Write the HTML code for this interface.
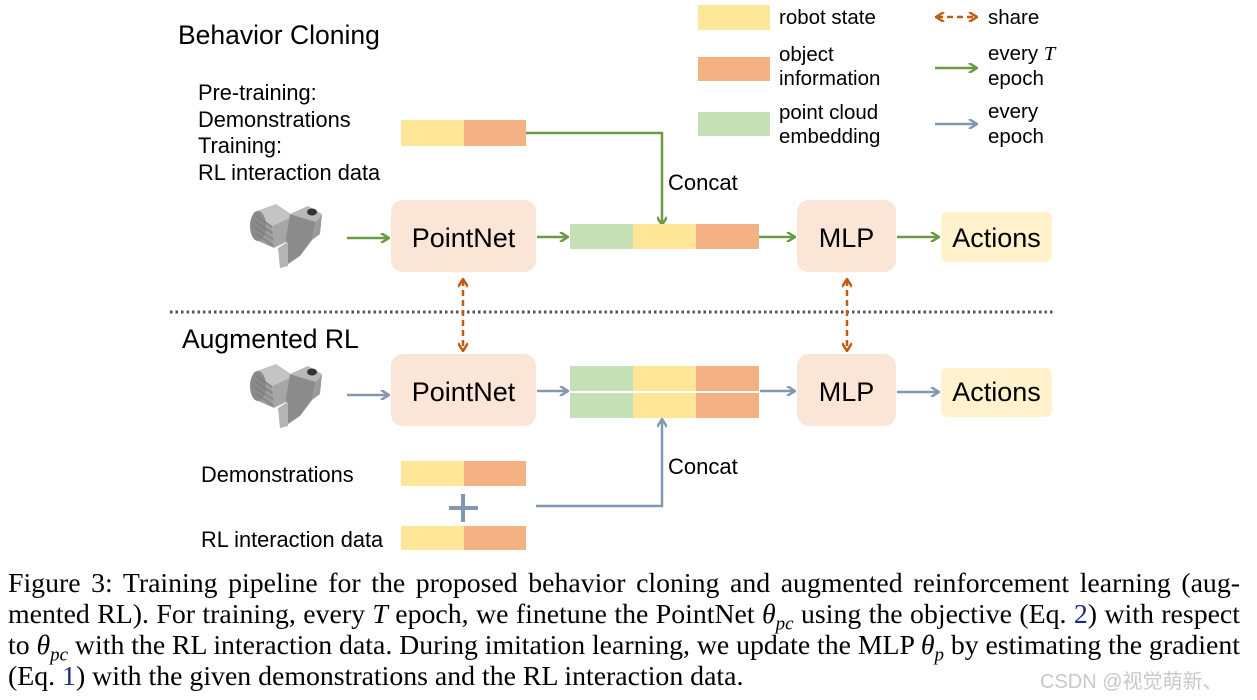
<!DOCTYPE html>
<html><head><meta charset="utf-8"><style>
html,body{margin:0;padding:0;background:#fff;width:1257px;height:700px;overflow:hidden}
svg{display:block}
.s{font-family:"Liberation Sans",sans-serif;fill:#000}
.cap{position:absolute;left:8px;top:568px;width:1232px;font-family:"Liberation Serif",serif;font-size:27.8px;line-height:31px;color:#000;word-spacing:-2px}
.cap div{text-align:justify;text-align-last:justify;white-space:nowrap;height:31px}
.cap div.l{text-align-last:left;word-spacing:0}
</style></head><body>
<svg width="1257" height="700" viewBox="0 0 1257 700" style="position:absolute;left:0;top:0">
<defs>
<marker id="g" markerWidth="10" markerHeight="10" refX="8" refY="5" orient="auto" markerUnits="userSpaceOnUse"><path d="M1,0 L9,5 L1,10" fill="none" stroke="#6b9a45" stroke-width="2.5"/></marker>
<marker id="b" markerWidth="10" markerHeight="10" refX="8" refY="5" orient="auto" markerUnits="userSpaceOnUse"><path d="M1,0 L9,5 L1,10" fill="none" stroke="#8497b0" stroke-width="2.5"/></marker>
<marker id="o" markerWidth="10" markerHeight="10" refX="8" refY="5" orient="auto-start-reverse" markerUnits="userSpaceOnUse"><path d="M1,0 L9,5 L1,10" fill="none" stroke="#c55a11" stroke-width="2.5"/></marker>
<g id="cam">
<path d="M4,8 L26,0 L44,12 L22,22 Z" fill="#c4c4c4"/>
<path d="M4,8 L22,22 L24,44 L6,36 Z" fill="#9c9c9c"/>
<ellipse cx="8" cy="22" rx="8" ry="15" fill="#8a8a8a"/>
<path d="M6,12 L24,24 M5,18 L24,30 M5,24 L24,36 M6,30 L24,42" stroke="#777" stroke-width="1"/>
<path d="M22,22 L44,12 L44,34 L24,44 Z" fill="#a6a6a6"/>
<path d="M40,10 L58,2 L72,10 L66,18 Z" fill="#b8b8b8"/>
<path d="M40,10 L66,18 L62,36 L50,52 L38,60 L36,34 Z" fill="#8c8c8c"/>
<path d="M66,18 L72,10 L70,30 L62,36 Z" fill="#9a9a9a"/>
<path d="M28,44 L38,38 L38,62 L30,64 Z" fill="#b4b4b4"/>
<ellipse cx="62" cy="8" rx="5" ry="3.5" fill="#333"/>
</g>
</defs>
<!-- legend -->
<rect x="698" y="5" width="72" height="25" fill="#ffe699"/>
<rect x="698" y="57" width="72" height="24" fill="#f4b183"/>
<rect x="698" y="112" width="72" height="24" fill="#c5e0b4"/>
<text class="s" x="779" y="24" font-size="20.5">robot state</text>
<text class="s" x="779" y="61" font-size="20.5">object</text>
<text class="s" x="779" y="85" font-size="20.5">information</text>
<text class="s" x="779" y="119" font-size="20.5">point cloud</text>
<text class="s" x="779" y="143" font-size="20.5">embedding</text>
<line x1="937" y1="17" x2="976" y2="17" stroke="#c55a11" stroke-width="2.5" stroke-dasharray="6,4" marker-start="url(#o)" marker-end="url(#o)"/>
<text class="s" x="988" y="24" font-size="20.5">share</text>
<line x1="935" y1="68" x2="976" y2="68" stroke="#6b9a45" stroke-width="2.5" marker-end="url(#g)"/>
<text class="s" x="988" y="60" font-size="20.5">every <tspan font-family="Liberation Serif" font-style="italic">T</tspan></text>
<text class="s" x="988" y="85" font-size="20.5">epoch</text>
<line x1="935" y1="124" x2="976" y2="124" stroke="#8497b0" stroke-width="2.5" marker-end="url(#b)"/>
<text class="s" x="988" y="118" font-size="20.5">every</text>
<text class="s" x="988" y="143" font-size="20.5">epoch</text>
<!-- top -->
<text class="s" x="178" y="44" font-size="26.5">Behavior Cloning</text>
<text class="s" x="198" y="100" font-size="21.8">Pre-training:</text>
<text class="s" x="198" y="127" font-size="21.8">Demonstrations</text>
<text class="s" x="198" y="153" font-size="21.8">Training:</text>
<text class="s" x="198" y="180" font-size="21.8">RL interaction data</text>
<rect x="401" y="120" width="63" height="26" fill="#ffe699"/><rect x="464" y="120" width="62" height="26" fill="#f4b183"/>
<polyline points="526,133 662,133 662,224" fill="none" stroke="#6b9a45" stroke-width="2.5" marker-end="url(#g)"/>
<text class="s" x="668" y="190" font-size="22">Concat</text>
<use href="#cam" x="250" y="204"/>
<line x1="347" y1="238" x2="388" y2="238" stroke="#6b9a45" stroke-width="2.5" marker-end="url(#g)"/>
<rect x="391" y="200" width="145" height="72" rx="12" fill="#fbe5d6"/>
<text class="s" x="463.5" y="247" font-size="27" text-anchor="middle">PointNet</text>
<line x1="537" y1="237" x2="567" y2="237" stroke="#6b9a45" stroke-width="2.5" marker-end="url(#g)"/>
<rect x="570" y="224" width="63" height="25" fill="#c5e0b4"/><rect x="633" y="224" width="63" height="25" fill="#ffe699"/><rect x="696" y="224" width="63" height="25" fill="#f4b183"/>
<line x1="759" y1="237" x2="794" y2="237" stroke="#6b9a45" stroke-width="2.5" marker-end="url(#g)"/>
<rect x="797" y="200" width="99" height="72" rx="12" fill="#fbe5d6"/>
<text class="s" x="846.5" y="247" font-size="27" text-anchor="middle">MLP</text>
<line x1="897" y1="237" x2="938" y2="237" stroke="#6b9a45" stroke-width="2.5" marker-end="url(#g)"/>
<rect x="941" y="212" width="111" height="50" rx="6" fill="#fff2cc"/>
<text class="s" x="996.5" y="247" font-size="27" text-anchor="middle">Actions</text>
<line x1="170" y1="312" x2="1055" y2="312" stroke="#555" stroke-width="3" stroke-dasharray="2.5,3"/>
<line x1="463" y1="280" x2="463" y2="350" stroke="#c55a11" stroke-width="2.5" stroke-dasharray="6,4" marker-start="url(#o)" marker-end="url(#o)"/>
<line x1="847" y1="280" x2="847" y2="350" stroke="#c55a11" stroke-width="2.5" stroke-dasharray="6,4" marker-start="url(#o)" marker-end="url(#o)"/>
<!-- bottom -->
<text class="s" x="182" y="348" font-size="26.5">Augmented RL</text>
<use href="#cam" x="250" y="364"/>
<line x1="347" y1="395" x2="388" y2="395" stroke="#8497b0" stroke-width="2.5" marker-end="url(#b)"/>
<rect x="391" y="354" width="145" height="72" rx="12" fill="#fbe5d6"/>
<text class="s" x="463.5" y="401" font-size="27" text-anchor="middle">PointNet</text>
<line x1="537" y1="391" x2="567" y2="391" stroke="#8497b0" stroke-width="2.5" marker-end="url(#b)"/>
<rect x="570" y="366" width="63" height="25" fill="#c5e0b4"/><rect x="633" y="366" width="63" height="25" fill="#ffe699"/><rect x="696" y="366" width="63" height="25" fill="#f4b183"/>
<rect x="570" y="393" width="63" height="25" fill="#c5e0b4"/><rect x="633" y="393" width="63" height="25" fill="#ffe699"/><rect x="696" y="393" width="63" height="25" fill="#f4b183"/>
<line x1="760" y1="391" x2="794" y2="391" stroke="#8497b0" stroke-width="2.5" marker-end="url(#b)"/>
<rect x="797" y="354" width="99" height="72" rx="12" fill="#fbe5d6"/>
<text class="s" x="846.5" y="401" font-size="27" text-anchor="middle">MLP</text>
<line x1="897" y1="392" x2="938" y2="392" stroke="#8497b0" stroke-width="2.5" marker-end="url(#b)"/>
<rect x="941" y="368" width="111" height="49" rx="6" fill="#fff2cc"/>
<text class="s" x="996.5" y="401" font-size="27" text-anchor="middle">Actions</text>
<polyline points="536,506 662,506 662,420" fill="none" stroke="#8497b0" stroke-width="2.5" marker-end="url(#b)"/>
<text class="s" x="668" y="474" font-size="22">Concat</text>
<text class="s" x="201" y="482" font-size="21.8">Demonstrations</text>
<rect x="401" y="461" width="63" height="25" fill="#ffe699"/><rect x="464" y="461" width="62" height="25" fill="#f4b183"/>
<line x1="449" y1="508" x2="478" y2="508" stroke="#8497b0" stroke-width="4"/>
<line x1="463" y1="494" x2="463" y2="522" stroke="#8497b0" stroke-width="4"/>
<text class="s" x="201" y="547" font-size="21.8">RL interaction data</text>
<rect x="401" y="526" width="63" height="24" fill="#ffe699"/><rect x="464" y="526" width="62" height="24" fill="#f4b183"/>
<text x="1040" y="688" font-family="Liberation Sans,'Noto Sans CJK SC',sans-serif" font-size="20" fill="#c8c8c8">CSDN @视觉萌新、</text>
</svg>
<div class="cap">
<div>Figure 3: Training pipeline for the proposed behavior cloning and augmented reinforcement learning (aug-</div>
<div>mented RL). For training, every <i>T</i> epoch, we finetune the PointNet <i>θ<sub style="font-size:19px;line-height:0">pc</sub></i> using the objective (Eq. <span style="color:#1a2a8a">2</span>) with respect</div>
<div>to <i>θ<sub style="font-size:19px;line-height:0">pc</sub></i> with the RL interaction data. During imitation learning, we update the MLP <i>θ<sub style="font-size:19px;line-height:0">p</sub></i> by estimating the gradient</div>
<div class="l">(Eq. <span style="color:#1a2a8a">1</span>) with the given demonstrations and the RL interaction data.</div>
</div>
</body></html>
